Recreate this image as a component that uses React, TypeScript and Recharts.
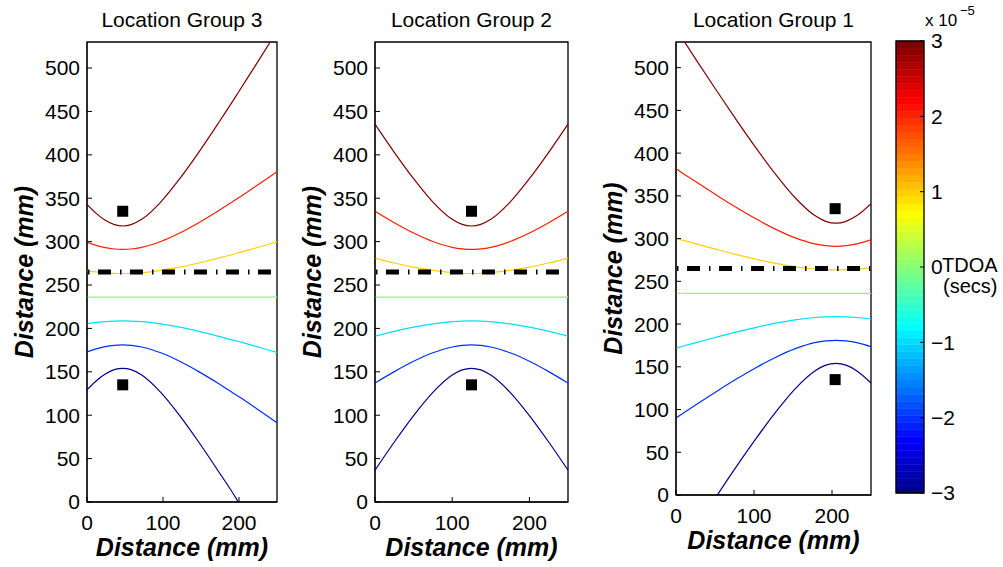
import React from "react";
import {
  ComposedChart,
  Line,
  Scatter,
  XAxis,
  YAxis,
  ReferenceLine,
  ReferenceArea,
} from "recharts";

const FONT = '"Liberation Sans", Arial, Helvetica, sans-serif';
const PAGE_W = 1003;
const PAGE_H = 567;
const PLOT_TOP = 42;

// contour colours (jet), TDOA = +3, +2, +1, -1, -2, -3 (x 1e-5 s)
const LEVEL_COLORS = ["#800000", "#ff2000", "#ffcf00", "#00dfff", "#0030ff", "#00008f"];
const ZERO_COLOR = "#8fff70";

const xTicks = [0, 100, 200];
const yTicks = [0, 50, 100, 150, 200, 250, 300, 350, 400, 450, 500];
const cbTicks = [-3, -2, -1, 0, 1, 2, 3];

const zeroContourY = 236; // TDOA = 0 contour
const arrayLineY = 265; // dash-dot line
const sensorY = [335, 135];

// Location Group 3
const g3X = [0, 12, 24, 36, 47, 58, 72, 97, 122, 147, 172, 197, 199, 222, 241, 250];
const g3DarkRed = [342.8, 332.5, 324.6, 319.6, 318.0, 319.6, 325.7, 345.6, 372.5, 402.9, 435.4, 469.0, 471.8, 503.4, 530.0, null];
const g3Red = [299.1, 295.6, 293.1, 291.5, 291.0, 291.5, 293.4, 300.1, 309.9, 321.8, 335.0, 349.1, 350.2, 363.7, 375.1, 380.6];
const g3Yellow = [266.4, 265.1, 264.1, 263.5, 263.3, 263.5, 264.2, 266.8, 270.6, 275.4, 280.8, 286.6, 287.1, 292.7, 297.5, 299.8];
const g3Cyan = [205.6, 207.0, 207.9, 208.5, 208.7, 208.5, 207.8, 205.2, 201.4, 196.6, 191.2, 185.4, 185.0, 179.3, 174.6, 172.3];
const g3Blue = [172.9, 176.4, 179.0, 180.5, 181.0, 180.5, 178.6, 171.9, 162.1, 150.2, 137.0, 122.9, 121.8, 108.3, 96.9, 91.4];
const g3DarkBlue = [129.3, 139.5, 147.4, 152.5, 154.0, 152.5, 146.3, 126.4, 99.6, 69.1, 36.6, 3.0, 0, null, null, null];
const g3SensorX = 47;

// Location Group 2
const g2X = [0, 25, 50, 75, 100, 113, 125, 137, 150, 175, 200, 225, 250];
const g2DarkRed = [435.4, 402.9, 372.5, 345.6, 325.7, 319.8, 318.0, 319.8, 325.7, 345.6, 372.5, 402.9, 435.4];
const g2Red = [335.0, 321.8, 309.9, 300.1, 293.4, 291.6, 291.0, 291.6, 293.4, 300.1, 309.9, 321.8, 335.0];
const g2Yellow = [280.8, 275.4, 270.6, 266.8, 264.2, 263.5, 263.3, 263.5, 264.2, 266.8, 270.6, 275.4, 280.8];
const g2Cyan = [191.2, 196.6, 201.4, 205.2, 207.8, 208.5, 208.7, 208.5, 207.8, 205.2, 201.4, 196.6, 191.2];
const g2Blue = [137.0, 150.2, 162.1, 171.9, 178.6, 180.4, 181.0, 180.4, 178.6, 171.9, 162.1, 150.2, 137.0];
const g2DarkBlue = [36.6, 69.1, 99.6, 126.4, 146.3, 152.2, 154.0, 152.2, 146.3, 126.4, 99.6, 69.1, 36.6];
const g2SensorX = 125;

// Location Group 1
const g1X = [0, 11, 28, 53, 78, 103, 128, 153, 178, 192, 205, 218, 232, 250];
const g1DarkRed = [null, 530.0, 506.1, 471.8, 438.1, 405.5, 374.8, 347.5, 326.9, 320.2, 318.0, 320.2, 326.9, 340.9];
const g1Red = [381.8, 375.1, 364.9, 350.2, 336.1, 322.8, 310.8, 300.8, 293.8, 291.7, 291.0, 291.7, 293.8, 298.5];
const g1Yellow = [300.3, 297.5, 293.2, 287.1, 281.2, 275.8, 271.0, 267.0, 264.4, 263.6, 263.3, 263.6, 264.4, 266.1];
const g1Cyan = [171.7, 174.6, 178.8, 185.0, 190.8, 196.2, 201.0, 205.0, 207.7, 208.5, 208.7, 208.5, 207.7, 205.9];
const g1Blue = [90.2, 96.9, 107.1, 121.8, 135.9, 149.2, 161.2, 171.2, 178.2, 180.3, 181.0, 180.3, 178.2, 173.5];
const g1DarkBlue = [null, null, null, 0, 34.0, 66.5, 97.2, 124.5, 145.1, 151.9, 154.0, 151.9, 145.1, 131.1];
const g1SensorX = 204;

// MATLAB jet(64), index 1..64
function jet(i: number) {
  const u = (k: number) =>
    k < 1 ? 0 : k <= 16 ? k / 16 : k <= 31 ? 1 : k <= 47 ? (48 - k) / 16 : 0;
  const r = i >= 25 ? u(i - 24) : 0;
  const g = i >= 9 && i <= 55 ? u(i - 8) : 0;
  const b = i <= 39 ? u(i + 8) : 0;
  const h = (v: number) => Math.round(v * 255).toString(16).padStart(2, "0");
  return `#${h(r)}${h(g)}${h(b)}`;
}

const minus = (v: number) => (v < 0 ? `\u2212${-v}` : `${v}`);

interface PanelProps {
  title: string;
  left: number;
  width: number;
  plotLeft: number;
  plotRight: number;
  plotBottom: number;
  xs: number[];
  curves: (number | null)[][];
  sensorX: number;
}

function Panel({ title, left, width, plotLeft, plotRight, plotBottom, xs, curves, sensorX }: PanelProps) {
  const yAxisW = 60;
  const xAxisH = 30;
  const margin = {
    top: PLOT_TOP,
    right: left + width - plotRight,
    bottom: PAGE_H - plotBottom - xAxisH,
    left: plotLeft - left - yAxisW,
  };
  const cx = (plotLeft + plotRight) / 2 - left;
  const cy = (PLOT_TOP + plotBottom) / 2;
  const yLabelX = plotLeft - left - 54;
  const sensors = sensorY.map((y) => ({ x: sensorX, y }));
  const tickStyle = { fontSize: 21, fill: "#000" };
  const labelStyle = { fontSize: 25, fontWeight: 700, fontStyle: "italic" as const };

  return (
    <div style={{ position: "absolute", left, top: 0, width, height: PAGE_H }}>
      <ComposedChart width={width} height={PAGE_H} margin={margin}>
        <XAxis
          xAxisId="b"
          type="number"
          dataKey="x"
          domain={[0, 250]}
          ticks={xTicks}
          interval={0}
          allowDataOverflow
          height={xAxisH}
          tickSize={-5}
          tickMargin={18}
          axisLine={{ stroke: "#000" }}
          tickLine={{ stroke: "#000" }}
          tick={tickStyle}
        />
        <XAxis
          xAxisId="t"
          orientation="top"
          mirror
          type="number"
          dataKey="x"
          domain={[0, 250]}
          ticks={xTicks}
          interval={0}
          allowDataOverflow
          tickSize={5}
          tick={false}
          axisLine={false}
          tickLine={{ stroke: "#000" }}
        />
        <YAxis
          yAxisId="l"
          type="number"
          dataKey="y"
          domain={[0, 530]}
          ticks={yTicks}
          interval={0}
          allowDataOverflow
          width={yAxisW}
          tickSize={-5}
          tickMargin={12}
          axisLine={{ stroke: "#000" }}
          tickLine={{ stroke: "#000" }}
          tick={tickStyle}
        />
        <YAxis
          yAxisId="r"
          orientation="right"
          mirror
          type="number"
          dataKey="y"
          domain={[0, 530]}
          ticks={yTicks}
          interval={0}
          allowDataOverflow
          tickSize={5}
          tick={false}
          axisLine={false}
          tickLine={{ stroke: "#000" }}
        />
        <ReferenceLine
          xAxisId="b"
          yAxisId="l"
          y={zeroContourY}
          stroke={ZERO_COLOR}
          strokeWidth={1.2}
        />
        {curves.map((ys, i) => (
          <Line
            key={i}
            xAxisId="b"
            yAxisId="l"
            data={xs.map((x, j) => ({ x, y: ys[j] }))}
            dataKey="y"
            type="monotone"
            stroke={LEVEL_COLORS[i]}
            strokeWidth={1.2}
            dot={false}
            activeDot={false}
            isAnimationActive={false}
          />
        ))}
        <ReferenceLine
          xAxisId="b"
          yAxisId="l"
          y={arrayLineY}
          stroke="#000"
          strokeWidth={5}
          strokeDasharray="13 9 1.5 8.5"
          strokeDashoffset={21}
        />
        <Scatter
          xAxisId="b"
          yAxisId="l"
          data={sensors}
          dataKey="y"
          isAnimationActive={false}
          shape={(p: any) => (
            <rect x={p.cx - 5.5} y={p.cy - 5.5} width={11} height={11} fill="#000" />
          )}
        />
        {/* axes box */}
        <ReferenceArea
          xAxisId="b"
          yAxisId="l"
          x1={0}
          x2={250}
          y1={0}
          y2={530}
          fill="none"
          fillOpacity={0}
          stroke="#000"
          strokeWidth={1.3}
        />
      </ComposedChart>
      <svg
        width={width}
        height={PAGE_H}
        style={{ position: "absolute", left: 0, top: 0, pointerEvents: "none" }}
      >
        <text x={cx} y={27} textAnchor="middle" fontSize={21} fill="#000">
          {title}
        </text>
        <text x={cx} y={plotBottom + 54} textAnchor="middle" fill="#000" style={labelStyle}>
          Distance (mm)
        </text>
        <text
          x={yLabelX}
          y={cy}
          textAnchor="middle"
          fill="#000"
          style={labelStyle}
          transform={`rotate(-90, ${yLabelX}, ${cy})`}
        >
          Distance (mm)
        </text>
      </svg>
    </div>
  );
}

function ColorBar() {
  const left = 880;
  const width = 123;
  const barLeft = 896;
  const barRight = 924;
  const barTop = 41;
  const barBottom = 493;
  const axisW = 40;
  const bands = Array.from({ length: 64 }, (_, i) => ({
    lo: -3 + (6 * i) / 64,
    hi: -3 + (6 * (i + 1)) / 64,
    color: jet(i + 1),
  }));
  return (
    <div style={{ position: "absolute", left, top: 0, width, height: PAGE_H }}>
      <ComposedChart
        width={width}
        height={PAGE_H}
        data={[
          { x: 0, y: -3 },
          { x: 1, y: 3 },
        ]}
        margin={{
          top: barTop,
          bottom: PAGE_H - barBottom,
          left: barLeft - left,
          right: left + width - barRight - axisW,
        }}
      >
        <XAxis type="number" dataKey="x" domain={[0, 1]} allowDataOverflow hide />
        <YAxis
          yAxisId="r"
          orientation="right"
          type="number"
          dataKey="y"
          domain={[-3, 3]}
          ticks={cbTicks}
          interval={0}
          allowDataOverflow
          width={axisW}
          tickSize={-4}
          tickMargin={11}
          axisLine={false}
          tickLine={{ stroke: "#000" }}
          tick={{ fontSize: 21, fill: "#000" }}
          tickFormatter={minus}
        />
        <YAxis
          yAxisId="l"
          orientation="left"
          mirror
          type="number"
          dataKey="y"
          domain={[-3, 3]}
          ticks={cbTicks}
          interval={0}
          allowDataOverflow
          tickSize={4}
          tick={false}
          axisLine={false}
          tickLine={{ stroke: "#000" }}
        />
        {bands.map((b, i) => (
          <ReferenceArea
            key={i}
            yAxisId="r"
            x1={0}
            x2={1}
            y1={b.lo}
            y2={b.hi}
            fill={b.color}
            fillOpacity={1}
            stroke={b.color}
            strokeWidth={0.5}
          />
        ))}
        <ReferenceArea
          yAxisId="r"
          x1={0}
          x2={1}
          y1={-3}
          y2={3}
          fill="none"
          fillOpacity={0}
          stroke="#000"
          strokeWidth={1.3}
        />
      </ComposedChart>
      <svg
        width={width}
        height={PAGE_H}
        style={{ position: "absolute", left: 0, top: 0, pointerEvents: "none" }}
      >
        <text x={45} y={26} fontSize={17} fill="#000">
          x 10
        </text>
        <text x={80} y={15} fontSize={13} fill="#000">
          {"\u22125"}
        </text>
        <text x={62} y={272} fontSize={20} fill="#000">
          TDOA
        </text>
        <text x={63} y={293} fontSize={20} fill="#000">
          (secs)
        </text>
      </svg>
    </div>
  );
}

export default function App() {
  return (
    <div
      style={{
        position: "absolute",
        left: 0,
        top: 0,
        width: PAGE_W,
        height: PAGE_H,
        background: "#fff",
        fontFamily: FONT,
        overflow: "hidden",
      }}
    >
      <Panel
        title="Location Group 3"
        left={0}
        width={290}
        plotLeft={87}
        plotRight={277}
        plotBottom={502}
        xs={g3X}
        curves={[g3DarkRed, g3Red, g3Yellow, g3Cyan, g3Blue, g3DarkBlue]}
        sensorX={g3SensorX}
      />
      <Panel
        title="Location Group 2"
        left={290}
        width={290}
        plotLeft={375}
        plotRight={568}
        plotBottom={502}
        xs={g2X}
        curves={[g2DarkRed, g2Red, g2Yellow, g2Cyan, g2Blue, g2DarkBlue]}
        sensorX={g2SensorX}
      />
      <Panel
        title="Location Group 1"
        left={580}
        width={300}
        plotLeft={676}
        plotRight={871}
        plotBottom={495}
        xs={g1X}
        curves={[g1DarkRed, g1Red, g1Yellow, g1Cyan, g1Blue, g1DarkBlue]}
        sensorX={g1SensorX}
      />
      <ColorBar />
    </div>
  );
}
